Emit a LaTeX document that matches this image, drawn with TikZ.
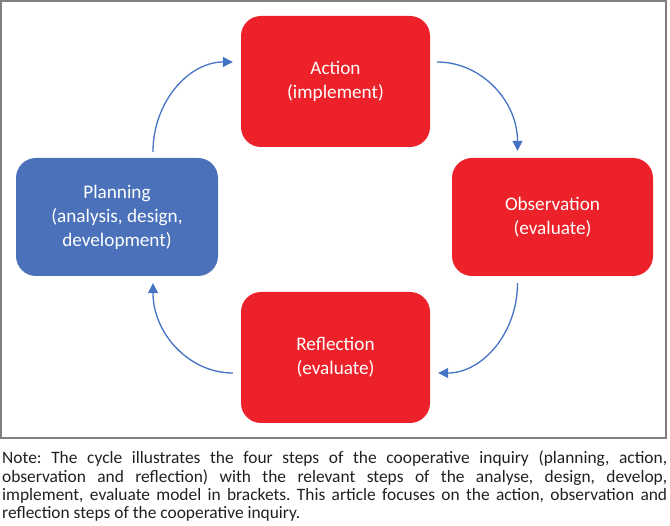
\documentclass[tikz,border=0pt]{standalone}
\usepackage{fontspec}
\setmainfont{Carlito}
\usetikzlibrary{arrows.meta}
\definecolor{boxred}{HTML}{ED2129}
\definecolor{boxblue}{HTML}{4A71B9}
\definecolor{arrblue}{HTML}{4472C4}
\definecolor{framegray}{HTML}{7F7F7F}
\definecolor{notetext}{HTML}{231F20}
\begin{document}
\begin{tikzpicture}[x=1pt,y=-1pt,
  box/.style={rounded corners=20pt, inner sep=0pt, align=center, text=white,
    font=\fontsize{19.2}{24}\selectfont},
  redbox/.style={box, fill=boxred},
  bluebox/.style={box, fill=boxblue},
  arr/.style={draw=arrblue, line width=1.3pt, -{Triangle[length=10pt,width=10pt]}}]
\useasboundingbox (0,0) rectangle (670,526);
\draw[framegray, line width=1.5pt] (1,1) rectangle (666,438);
\node[redbox, minimum width=189pt, minimum height=131pt] (act) at (335.5,81.5) {Action\\(implement)};
\node[redbox, minimum width=201pt, minimum height=118pt] (obs) at (552.5,217) {Observation\\(evaluate)};
\node[redbox, minimum width=189pt, minimum height=131pt] (refl) at (335.5,357.5) {Reflection\\(evaluate)};
\node[bluebox, minimum width=202pt, minimum height=118pt] (plan) at (117,217) {Planning\\(analysis, design,\\development)};
\draw[arr] ([xshift=36pt,yshift=6pt]plan.north) .. controls +(0,-50) and +(-44,0) .. ([xshift=-8pt,yshift=19.5pt]act.west);
\draw[arr] ([xshift=7pt,yshift=19.5pt]act.east) .. controls +(44,0) and +(0,-50) .. ([xshift=-35pt,yshift=7pt]obs.north);
\draw[arr] ([xshift=-35pt,yshift=-7pt]obs.south) .. controls +(0,50) and +(44,0) .. ([xshift=8pt,yshift=-15.5pt]refl.east);
\draw[arr] ([xshift=-8pt,yshift=-15.5pt]refl.west) .. controls +(-44,0) and +(0,50) .. ([xshift=36pt,yshift=-7pt]plan.south);
\node[anchor=base west, inner sep=0pt, text=notetext] (note) at (2,464) {\parbox[t]{665pt}{\fontsize{17.4}{18.2}\selectfont\frenchspacing\hyphenpenalty=10000\emergencystretch=20pt
Note: The cycle illustrates the four steps of the cooperative inquiry (planning, action,\linebreak
observation and reflection) with the relevant steps of the analyse, design, develop,\linebreak
implement, evaluate model in brackets. This article focuses on the action, observation and\linebreak
reflection steps of the cooperative inquiry.}};
\end{tikzpicture}
\end{document}
